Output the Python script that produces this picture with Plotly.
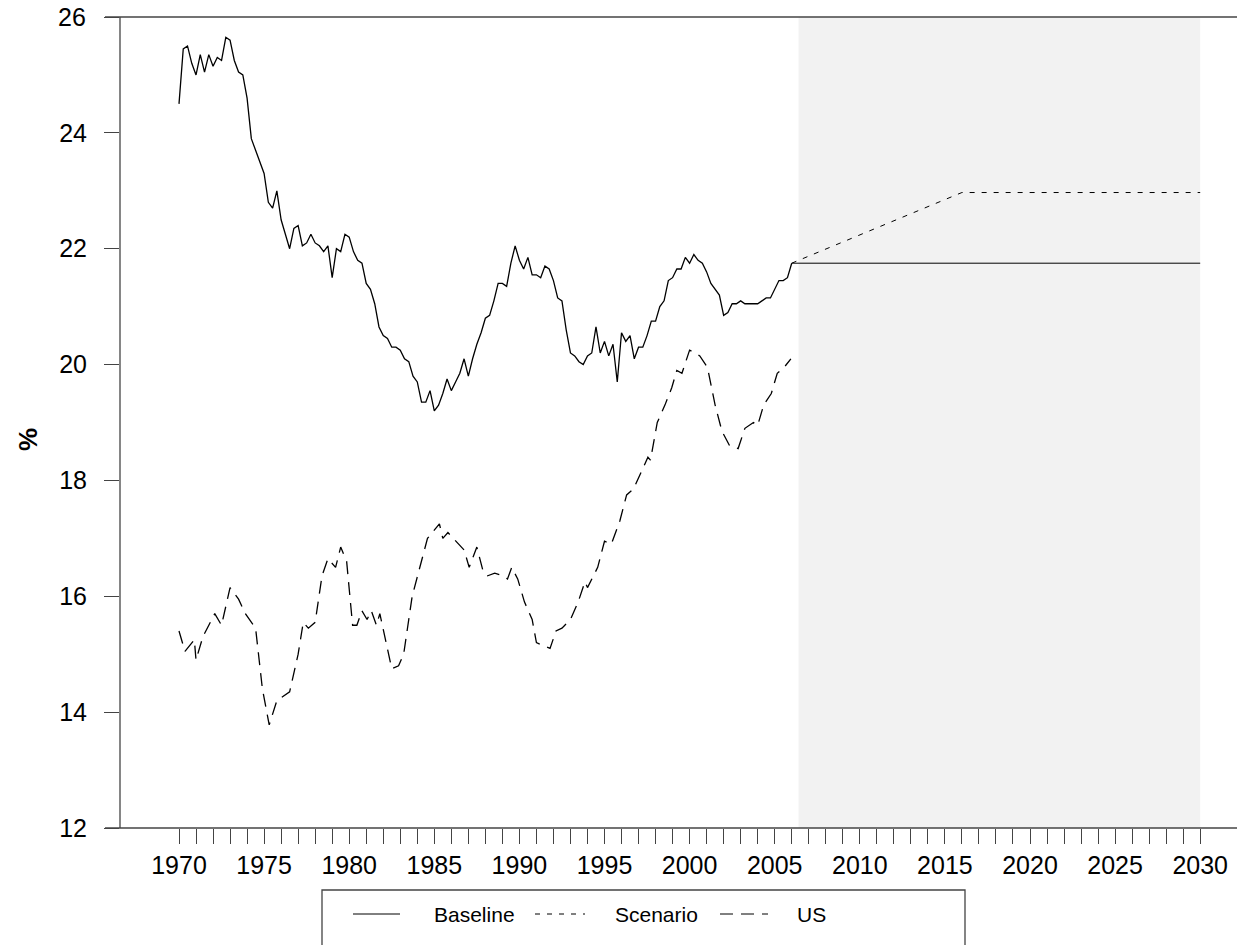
import numpy as np
import plotly.graph_objects as go

# quarterly baseline history, 1970Q1 .. 2006Q1
baseline_hist = [
    24.5, 25.45, 25.5, 25.2, 25.0, 25.35, 25.05, 25.35, 25.15, 25.3, 25.25, 25.65,
    25.6, 25.25, 25.05, 25.0, 24.6, 23.9, 23.7, 23.5, 23.3, 22.8, 22.7, 23.0,
    22.5, 22.25, 22.0, 22.35, 22.4, 22.05, 22.1, 22.25, 22.1, 22.05, 21.95, 22.05,
    21.5, 22.0, 21.95, 22.25, 22.2, 21.95, 21.8, 21.75, 21.4, 21.3, 21.05, 20.65,
    20.5, 20.45, 20.3, 20.3, 20.25, 20.1, 20.05, 19.8, 19.7, 19.35, 19.35, 19.55,
    19.2, 19.3, 19.5, 19.75, 19.55, 19.7, 19.85, 20.1, 19.8, 20.1, 20.35, 20.55,
    20.8, 20.85, 21.1, 21.4, 21.4, 21.35, 21.75, 22.05, 21.8, 21.65, 21.85, 21.55,
    21.55, 21.5, 21.7, 21.65, 21.45, 21.15, 21.1, 20.6, 20.2, 20.15, 20.05, 20.0,
    20.15, 20.2, 20.65, 20.2, 20.4, 20.15, 20.35, 19.7, 20.55, 20.4, 20.5, 20.1,
    20.3, 20.3, 20.5, 20.75, 20.75, 21.0, 21.1, 21.45, 21.5, 21.65, 21.65, 21.85,
    21.75, 21.9, 21.8, 21.75, 21.6, 21.4, 21.3, 21.2, 20.85, 20.9, 21.05, 21.05,
    21.1, 21.05, 21.05, 21.05, 21.05, 21.1, 21.15, 21.15, 21.3, 21.45, 21.45, 21.5,
    21.75,
]
baseline_years = 1970 + np.arange(len(baseline_hist)) / 4.0

# projections
proj_years = [2006.0, 2030.0]
baseline_proj = [21.75, 21.75]
scenario_years = [2006.0, 2016.0, 2030.0]
scenario_vals = [21.75, 22.97, 22.97]

us_years = [
    1970.0, 1970.35, 1970.9, 1971.0, 1971.4, 1972.1, 1972.5, 1973.0, 1973.5, 1973.9,
    1974.5, 1974.9, 1975.3, 1975.75, 1976.5, 1977.0, 1977.3, 1977.6, 1978.0, 1978.4,
    1978.75, 1979.2, 1979.5, 1979.85, 1980.2, 1980.45, 1980.75, 1981.05, 1981.3, 1981.6,
    1981.8, 1982.15, 1982.5, 1982.9, 1983.2, 1983.7, 1984.15, 1984.6, 1985.3, 1985.5,
    1985.8, 1986.3, 1986.75, 1987.05, 1987.5, 1987.85, 1988.1, 1988.55, 1989.05, 1989.3,
    1989.55, 1989.9, 1990.3, 1990.75, 1991.0, 1991.8, 1992.15, 1992.5, 1993.0, 1993.45,
    1993.85, 1994.0, 1994.6, 1995.0, 1995.4, 1995.9, 1996.3, 1996.7, 1997.1, 1997.55,
    1997.7, 1998.1, 1998.55, 1998.95, 1999.25, 1999.55, 2000.0, 2000.6, 2001.05, 2001.5,
    2001.9, 2002.35, 2002.85, 2003.25, 2003.75, 2004.0, 2004.35, 2004.8, 2005.15, 2005.55,
    2005.95,
]
us_vals = [
    15.4, 15.05, 15.25, 14.9, 15.3, 15.7, 15.5, 16.15, 15.95, 15.7,
    15.45, 14.4, 13.78, 14.2, 14.35, 15.0, 15.55, 15.45, 15.55, 16.35,
    16.65, 16.5, 16.85, 16.6, 15.5, 15.5, 15.75, 15.6, 15.75, 15.5,
    15.7, 15.25, 14.75, 14.8, 15.0, 16.0, 16.5, 17.0, 17.25, 17.0,
    17.1, 16.95, 16.8, 16.5, 16.85, 16.45, 16.35, 16.4, 16.35, 16.3,
    16.5, 16.3, 15.9, 15.6, 15.2, 15.1, 15.4, 15.45, 15.6, 15.9,
    16.25, 16.15, 16.5, 16.95, 16.9, 17.3, 17.75, 17.85, 18.1, 18.4,
    18.35, 19.0, 19.3, 19.6, 19.9, 19.85, 20.25, 20.15, 19.95, 19.3,
    18.85, 18.6, 18.55, 18.9, 19.0, 18.95, 19.3, 19.5, 19.85, 19.95,
    20.1,
]

year_ticks = list(range(1970, 2031))
year_labels = [str(y) if y % 5 == 0 else "" for y in year_ticks]
y_ticks = [12, 14, 16, 18, 20, 22, 24, 26]

FONT = "Liberation Sans, Arial, sans-serif"
OFF = 8  # page body margin
W, H = 1245 - OFF, 945 - OFF
L, R, T, B = 120 - OFF, 0, 17 - OFF, 945 - 828


def px(x):
    return (x - 120) / (W - L - R)


def py(y):
    return (828 - y) / (H - B - T)


fig = go.Figure()
fig.add_trace(go.Scatter(x=baseline_years, y=baseline_hist, mode="lines",
                         line=dict(color="black", width=1.3), showlegend=False))
fig.add_trace(go.Scatter(x=proj_years, y=baseline_proj, mode="lines",
                         line=dict(color="black", width=1.0), showlegend=False))
fig.add_trace(go.Scatter(x=scenario_years, y=scenario_vals, mode="lines",
                         line=dict(color="black", width=1.0, dash="5px,7px"), showlegend=False))
fig.add_trace(go.Scatter(x=us_years, y=us_vals, mode="lines",
                         line=dict(color="black", width=1.3, dash="13px,8px"), showlegend=False))

shapes = [
    dict(type="rect", xref="x", yref="paper", x0=2006.4, x1=2030, y0=0, y1=1,
         fillcolor="#f2f2f2", line=dict(width=0), layer="below"),
    # frame lines
    dict(type="line", xref="paper", yref="paper", x0=px(105), x1=1, y0=1, y1=1,
         line=dict(color="#444", width=1.3)),
    dict(type="line", xref="paper", yref="paper", x0=px(105), x1=1, y0=0, y1=0,
         line=dict(color="#444", width=1.3)),
    dict(type="line", xref="paper", yref="paper", x0=0, x1=0, y0=0, y1=1,
         line=dict(color="#444", width=1.3)),
    # legend box
    dict(type="rect", xref="paper", yref="paper", x0=px(322), x1=px(965), y0=py(890), y1=py(950),
         line=dict(color="#444", width=1.3), fillcolor="white"),
    dict(type="line", xref="paper", yref="paper", x0=px(353), x1=px(400), y0=py(914), y1=py(914),
         line=dict(color="black", width=1)),
    dict(type="line", xref="paper", yref="paper", x0=px(535), x1=px(585), y0=py(914), y1=py(914),
         line=dict(color="black", width=1, dash="5px,7px")),
    dict(type="line", xref="paper", yref="paper", x0=px(720), x1=px(768), y0=py(914), y1=py(914),
         line=dict(color="black", width=1, dash="13px,8px")),
]
annotations = [
    dict(text=t, xref="paper", yref="paper", x=px(x0), y=py(914), xanchor="left",
         yanchor="middle", showarrow=False, font=dict(family=FONT, size=21, color="black"))
    for t, x0 in [("Baseline", 432), ("Scenario", 613), ("US", 795)]
]
annotations.append(dict(text="<b>%</b>", xref="paper", yref="paper", x=px(28), y=py(440),
                        xanchor="center", yanchor="middle", textangle=-90, showarrow=False,
                        font=dict(family=FONT, size=26, color="black")))
# top tick label (plotly drops it at the plot edge)
annotations.append(dict(text=str(y_ticks[-1]), xref="paper", yref="y", x=px(88), y=y_ticks[-1],
                        xanchor="right", yanchor="middle", showarrow=False,
                        font=dict(family=FONT, size=25, color="black")))

fig.update_layout(
    width=W, height=H, margin=dict(l=L, r=R, t=T, b=B),
    plot_bgcolor="white", paper_bgcolor="white",
    font=dict(family=FONT, size=25, color="black"),
    shapes=shapes, annotations=annotations, showlegend=False,
    xaxis=dict(range=[1970 - 59 / 17.02, 1970 + 1125 / 17.02 - 59 / 17.02], tickmode="array",
               tickvals=year_ticks, ticktext=year_labels, ticks="outside", ticklen=15,
               tickcolor="#444", showgrid=False, zeroline=False, showline=False),
    yaxis=dict(range=[12, 26], tickvals=y_ticks, ticks="outside", ticklen=15,
               tickcolor="#444", showgrid=False, zeroline=False, showline=False,
               ticklabelstandoff=12),
)

fig.write_html("out.html")
